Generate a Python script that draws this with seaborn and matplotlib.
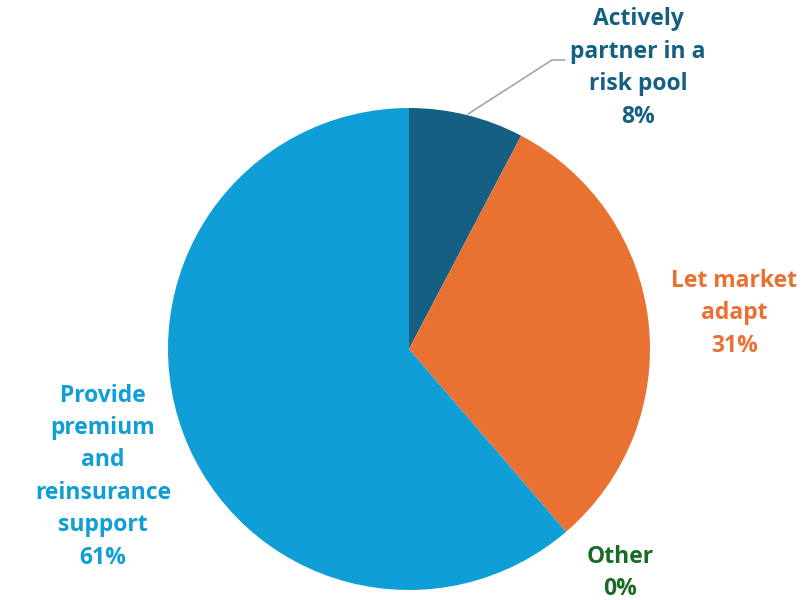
import matplotlib
matplotlib.use("Agg")
import matplotlib.pyplot as plt
import seaborn as sns

categories = ["Actively\npartner in a\nrisk pool", "Let market\nadapt", "Other", "Provide\npremium\nand\nreinsurance\nsupport"]
values = [7.7, 31.0, 0.0, 61.3]
pct_labels = ["8%", "31%", "0%", "61%"]
colors = ["#156082", "#E97132", "#196B24", "#0F9ED5"]

sns.set_theme(style="white")
plt.rcParams['font.family'] = ['Open Sans', 'DejaVu Sans']

fig = plt.figure(figsize=(8.04, 6.0), dpi=100)
cx, cy, r = 409, 349, 241
ax = fig.add_axes([(cx - r) / 804, (600 - cy - r) / 600, 2 * r / 804, 2 * r / 600])
ax.pie(values, colors=colors, startangle=90, counterclock=False, radius=1,
       wedgeprops=dict(linewidth=0))
ax.set_xlim(-1, 1)
ax.set_ylim(-1, 1)
ax.set_aspect("equal")
ax.axis("off")

label_pos = [(0.95, 1.166), (1.35, 0.149), (0.876, -0.93), (-1.27, -0.53)]
text_colors = ["#156082", "#E97132", "#196B24", "#0F9ED5"]
for cat, pct, (x, y), c in zip(categories, pct_labels, label_pos, text_colors):
    ax.text(x, y, f"{cat}\n{pct}", ha="center", va="center", color=c,
            fontsize=16.5, fontweight="bold", linespacing=1.47, clip_on=False)

ax.plot([0.245, 0.593, 0.647], [0.975, 1.199, 1.199], color="#A6A6A6", lw=1.2, clip_on=False)

fig.savefig("out.png", dpi=100)
